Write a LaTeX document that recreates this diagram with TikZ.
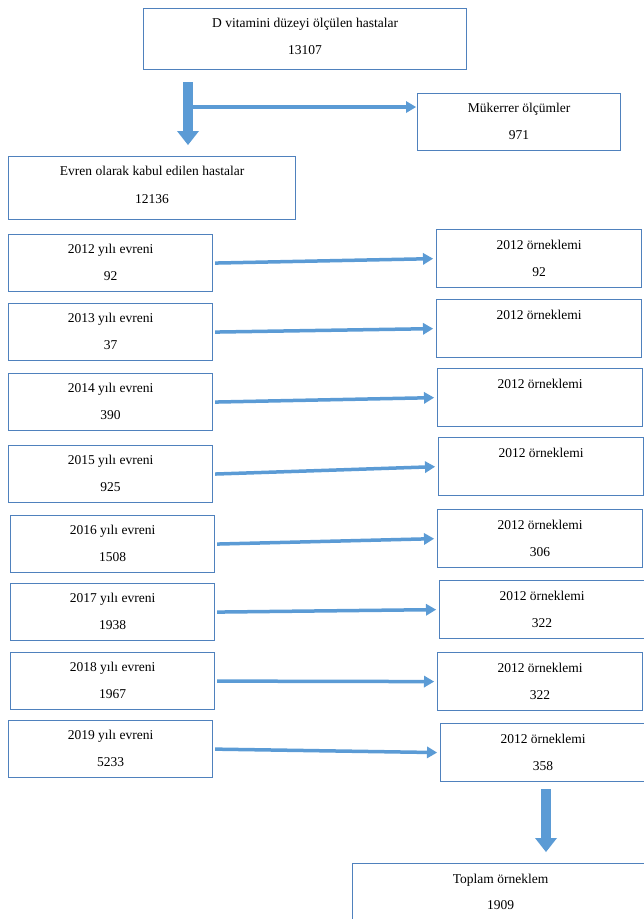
\documentclass[tikz,border=0pt]{standalone}
\usepackage{fontspec}
\setmainfont{Liberation Serif}
\usetikzlibrary{arrows.meta}
\definecolor{boxblue}{RGB}{79,129,189}
\definecolor{arrowblue}{RGB}{91,155,213}
\tikzset{
  box/.style={draw=boxblue, line width=1.2pt, anchor=north west, inner sep=0pt},
  lbox/.style={box, minimum width=204pt, minimum height=57pt},
  rbox/.style={box, minimum width=205pt, minimum height=58pt},
  txt/.style={font=\fontsize{13.5}{16}\selectfont, inner sep=0pt, anchor=base},
  sidearrow/.style={arrowblue, line width=3.5pt, -{Triangle[width=12pt,length=10pt,line width=0pt]}, shorten <=2pt, shorten >=3pt},
  downarrow/.style={arrowblue, line width=10pt, -{Triangle[width=22pt,length=14pt,line width=0pt]}},
}
\begin{document}
\begin{tikzpicture}[x=1pt,y=-1pt]
  \useasboundingbox (0,0) rectangle (644,919);
  % top part
  \node[box, minimum width=323pt, minimum height=61pt] (top) at (143,8) {};
  \node[txt] (top1) at ([yshift=-19pt]top.north) {D vitamini düzeyi ölçülen hastalar};
  \node[txt] (top2) at ([yshift=-46pt]top.north) {13107};
  \node[box, minimum width=203pt, minimum height=57pt] (muk) at (417,93) {};
  \node[txt] (muk1) at ([yshift=-19pt]muk.north) {Mükerrer ölçümler};
  \node[txt] (muk2) at ([yshift=-46pt]muk.north) {971};
  \node[box, minimum width=287pt, minimum height=63pt] (evr) at (8,156) {};
  \node[txt] (evr1) at ([yshift=-19pt]evr.north) {Evren olarak kabul edilen hastalar};
  \node[txt] (evr2) at ([yshift=-47pt]evr.north) {12136};
  \coordinate (p0) at (188,82);
  \coordinate (p1) at (188,145);
  \coordinate (p2) at (193,107);
  \draw[downarrow] (p0) -- (p1);
  \draw[sidearrow, shorten <=0pt, shorten >=1pt] (p2) -- (muk.west |- p2);
  % yearly populations
  \node[lbox] (l12) at (8,234) {};
  \node[lbox] (l13) at (8,303) {};
  \node[lbox] (l14) at (8,373) {};
  \node[lbox] (l15) at (8,445) {};
  \node[lbox] (l16) at (10,515) {};
  \node[lbox] (l17) at (10,583) {};
  \node[lbox] (l18) at (10,652) {};
  \node[lbox] (l19) at (8,720) {};
  \node[txt] (l12a) at ([yshift=-19pt]l12.north) {2012 yılı evreni};
  \node[txt] (l12b) at ([yshift=-46pt]l12.north) {92};
  \node[txt] (l13a) at ([yshift=-19pt]l13.north) {2013 yılı evreni};
  \node[txt] (l13b) at ([yshift=-46pt]l13.north) {37};
  \node[txt] (l14a) at ([yshift=-19pt]l14.north) {2014 yılı evreni};
  \node[txt] (l14b) at ([yshift=-46pt]l14.north) {390};
  \node[txt] (l15a) at ([yshift=-19pt]l15.north) {2015 yılı evreni};
  \node[txt] (l15b) at ([yshift=-46pt]l15.north) {925};
  \node[txt] (l16a) at ([yshift=-19pt]l16.north) {2016 yılı evreni};
  \node[txt] (l16b) at ([yshift=-46pt]l16.north) {1508};
  \node[txt] (l17a) at ([yshift=-19pt]l17.north) {2017 yılı evreni};
  \node[txt] (l17b) at ([yshift=-46pt]l17.north) {1938};
  \node[txt] (l18a) at ([yshift=-19pt]l18.north) {2018 yılı evreni};
  \node[txt] (l18b) at ([yshift=-46pt]l18.north) {1967};
  \node[txt] (l19a) at ([yshift=-19pt]l19.north) {2019 yılı evreni};
  \node[txt] (l19b) at ([yshift=-46pt]l19.north) {5233};
  % samples
  \node[rbox] (r12) at (436,229) {};
  \node[rbox] (r13) at (436,299) {};
  \node[rbox] (r14) at (437,368) {};
  \node[rbox] (r15) at (438,437) {};
  \node[rbox] (r16) at (437,509) {};
  \node[rbox] (r17) at (439,580) {};
  \node[rbox] (r18) at (437,652) {};
  \node[rbox] (r19) at (440,723) {};
  \node[txt] (r12a) at ([yshift=-20pt]r12.north) {2012 örneklemi};
  \node[txt] (r12b) at ([yshift=-47pt]r12.north) {92};
  \node[txt] (r13a) at ([yshift=-20pt]r13.north) {2012 örneklemi};
  \node[txt] (r14a) at ([yshift=-20pt]r14.north) {2012 örneklemi};
  \node[txt] (r15a) at ([yshift=-20pt]r15.north) {2012 örneklemi};
  \node[txt] (r16a) at ([yshift=-20pt]r16.north) {2012 örneklemi};
  \node[txt] (r16b) at ([yshift=-47pt]r16.north) {306};
  \node[txt] (r17a) at ([yshift=-20pt]r17.north) {2012 örneklemi};
  \node[txt] (r17b) at ([yshift=-47pt]r17.north) {322};
  \node[txt] (r18a) at ([yshift=-20pt]r18.north) {2012 örneklemi};
  \node[txt] (r18b) at ([yshift=-47pt]r18.north) {322};
  \node[txt] (r19a) at ([yshift=-20pt]r19.north) {2012 örneklemi};
  \node[txt] (r19b) at ([yshift=-47pt]r19.north) {358};
  \begin{scope}[sidearrow]
    \draw (l12.east) -- (r12.west);
    \draw (l13.east) -- (r13.west);
    \draw (l14.east) -- (r14.west);
    \draw (l15.east) -- (r15.west);
    \draw (l16.east) -- (r16.west);
    \draw (l17.east) -- (r17.west);
    \draw (l18.east) -- (r18.west);
    \draw (l19.east) -- (r19.west);
  \end{scope}
  % total
  \coordinate (p3) at (546,789);
  \coordinate (p4) at (546,852);
  \draw[downarrow] (p3) -- (p4);
  \node[box, minimum width=296pt, minimum height=70pt] (tot) at (352,863) {};
  \node[txt] (tot1) at ([yshift=-20pt]tot.north) {Toplam örneklem};
  \node[txt] (tot2) at ([yshift=-46pt]tot.north) {1909};
\end{tikzpicture}
\end{document}
